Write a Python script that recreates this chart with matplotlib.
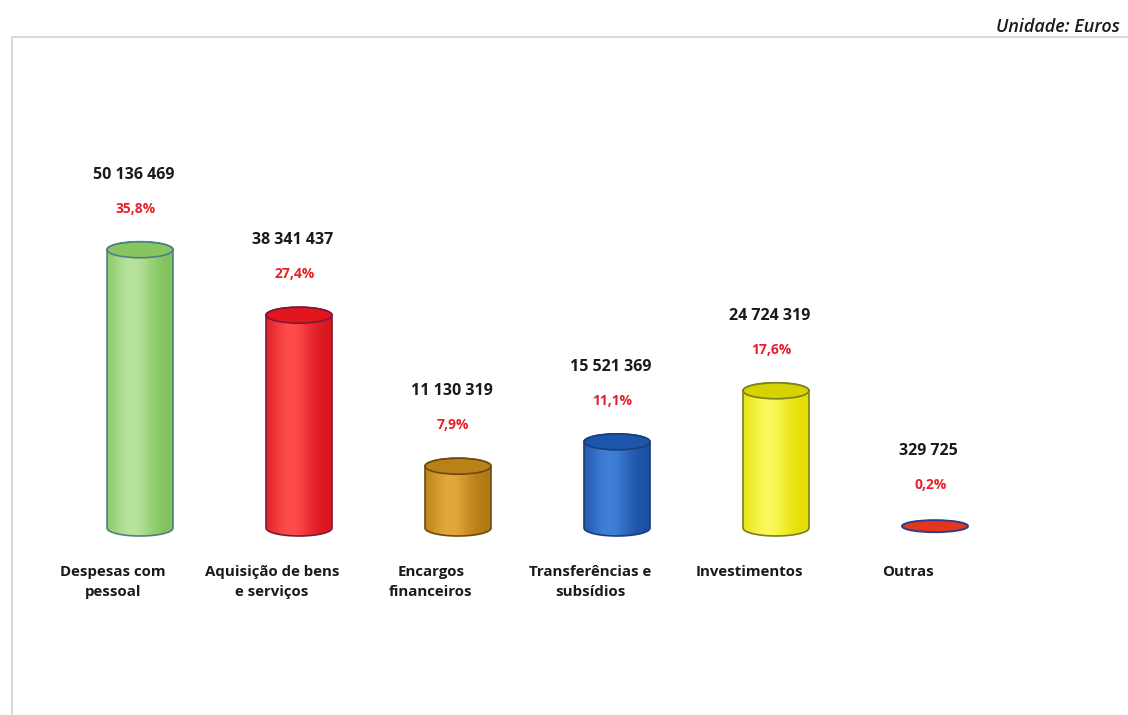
import matplotlib.pyplot as plt
import numpy as np
from matplotlib.colors import to_rgb
from matplotlib.patches import Ellipse, PathPatch, Rectangle
from matplotlib.path import Path

categories = ['Despesas com\npessoal', 'Aquisição de bens\ne serviços', 'Encargos\nfinanceiros',
              'Transferências e\nsubsídios', 'Investimentos', 'Outras']
values = [50136469, 38341437, 11130319, 15521369, 24724319, 329725]
value_labels = ['50 136 469', '38 341 437', '11 130 319', '15 521 369', '24 724 319', '329 725']
pct_labels = ['35,8%', '27,4%', '7,9%', '11,1%', '17,6%', '0,2%']

# light, dark, top, edge
colors = [
    ('#b8e39c', '#7fc25a', '#86c560', '#4d7f86'),
    ('#ff4d4d', '#d8141c', '#e3161e', '#7a1a3a'),
    ('#e2a83a', '#b07812', '#b98118', '#6b4a12'),
    ('#3f80d6', '#1a4ea3', '#1c55ab', '#173f7e'),
    ('#fbf85a', '#e2dd00', '#d6d200', '#7d7d20'),
    ('#f0452a', '#d82a18', '#e3361e', '#2a3f8a'),
]

fig = plt.figure(figsize=(11.28, 7.15), dpi=100)
ax = fig.add_axes([0, 0, 1, 1])
ax.set_axis_off()

step_px = 159.0
px_per_unit = 5.55e-6   # pixels per euro
base_px = 715 - 528
ax.set_xlim(-140 / step_px, (1128 - 140) / step_px)
ax.set_ylim(-base_px / px_per_unit, (715 - base_px) / px_per_unit)

w = 66 / step_px
eh = 16 / px_per_unit

th = np.linspace(0, np.pi, 60)
for i, v in enumerate(values):
    light, dark, top, edge = colors[i]
    cx = i
    if v * px_per_unit > 4:
        # silhouette: bottom front arc, right side, top back arc, left side
        bx = cx - w / 2 * np.cos(th)
        by = -eh / 2 * np.sin(th)
        tx = cx + w / 2 * np.cos(th)
        ty = v + eh / 2 * np.sin(th)
        verts = np.concatenate([np.column_stack([bx, by]), np.column_stack([tx, ty]), [[bx[0], by[0]]]])
        codes = [Path.MOVETO] + [Path.LINETO] * (len(verts) - 2) + [Path.CLOSEPOLY]
        body = PathPatch(Path(verts, codes), facecolor='none', edgecolor=edge, lw=1.2, zorder=3)
        ax.add_patch(body)
        t = np.linspace(0, 1, 100)
        f = np.exp(-((t - 0.38) / 0.33) ** 2)
        grad = np.outer(np.ones(2), f)[..., None] * np.array(to_rgb(light)) + \
            np.outer(np.ones(2), 1 - f)[..., None] * np.array(to_rgb(dark))
        im = ax.imshow(grad, extent=(cx - w / 2, cx + w / 2, -eh / 2, v + eh / 2),
                       aspect='auto', origin='lower', zorder=2, interpolation='bilinear')
        im.set_clip_path(body)
        ax.add_patch(Ellipse((cx, v), w, eh, angle=0, facecolor=top, edgecolor=edge, lw=1.2, zorder=4))
    else:
        ax.add_patch(Ellipse((cx, v), w, eh * 0.75, facecolor=top, edgecolor=edge, lw=1.4, zorder=4))

    ax.text(cx - 0.03, v + 41 / px_per_unit, pct_labels[i], ha='center', va='center',
            fontsize=10, fontweight='bold', color='#e8202a', family='Open Sans', zorder=5)
    ax.text(cx - 0.04, v + 75 / px_per_unit, value_labels[i], ha='center', va='center',
            fontsize=11.5, fontweight='bold', color='#1a1a1a', family='Open Sans', zorder=5)
    ax.text(cx - 27 / step_px, -37 / px_per_unit, categories[i], ha='center', va='top',
            fontsize=10.8, fontweight='bold', color='#1a1a1a', family='Open Sans',
            linespacing=1.55, zorder=5)

# light frame
fig.patches.append(Rectangle((12 / 1128, -0.01), 1.2, (715 - 37) / 715 + 0.01,
                             transform=fig.transFigure, fill=False,
                             edgecolor='#d9d9d9', lw=1.5))
fig.text(1120 / 1128, 1 - 27 / 715, 'Unidade: Euros', ha='right', va='center',
         fontsize=13, fontstyle='italic', fontweight='semibold', color='#1a1a1a', family='Open Sans')

fig.savefig('out.png', dpi=100)
